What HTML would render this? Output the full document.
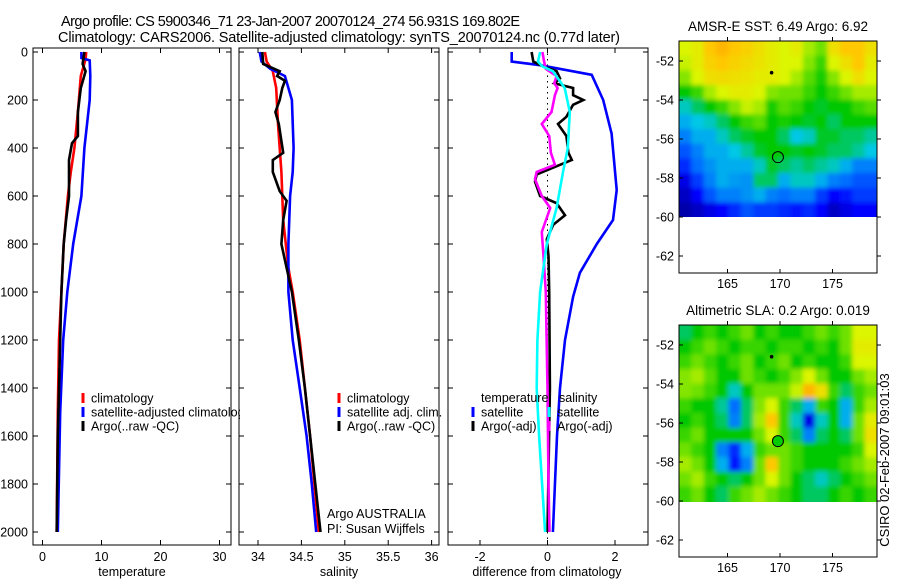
<!DOCTYPE html>
<html><head><meta charset="utf-8">
<style>
body{margin:0;background:#fff;}
svg{display:block;font-family:"Liberation Sans",sans-serif;}
text{font-size:12.5px;fill:#000;}
</style></head>
<body>
<svg id="c" width="900" height="580" viewBox="0 0 900 580" xmlns="http://www.w3.org/2000/svg">
<defs>
<clipPath id="cp1"><rect x="33" y="48" width="198" height="497"/></clipPath>
<clipPath id="cp1l"><rect x="33" y="48" width="207" height="497"/></clipPath>
<clipPath id="cp2"><rect x="239" y="48" width="200" height="497"/></clipPath>
<clipPath id="cp3"><rect x="448" y="48" width="200" height="497"/></clipPath>
<clipPath id="cm1"><rect x="679" y="41" width="198" height="176"/></clipPath>
<clipPath id="cm2"><rect x="679" y="325" width="198" height="177"/></clipPath>
<filter id="bl" x="-5%" y="-5%" width="110%" height="110%"><feGaussianBlur stdDeviation="2.5"/></filter>
</defs>
<text x="61" y="26" style="font-size:14.5px" textLength="459">Argo profile: CS 5900346_71 23-Jan-2007 20070124_274 56.931S 169.802E</text>
<text x="58" y="42" style="font-size:14.5px" textLength="562">Climatology: CARS2006. Satellite-adjusted climatology: synTS_20070124.nc (0.77d later)</text>
<g id="g"></g>
<text transform="translate(889,460) rotate(-90)" text-anchor="middle" style="font-size:13px">CSIRO 02-Feb-2007 09:01:03</text>
</svg>
<script>
// ---- depth axis ----
const depthTicks = [0,200,400,600,800,1000,1200,1400,1600,1800,2000];
// ---- temperature panel ----
const tempTicks = [0,10,20,30];
const tClimDep = [0,30,100,250,400,500,600,800,1000,1200,1500,2000];
const tClim    = [7.4,7.3,6.5,6.0,5.4,4.8,4.3,3.6,3.2,2.8,2.6,2.4];
const tSatDep  = [0,25,35,100,200,400,600,800,1000,1200,1500,2000];
const tSat     = [6.6,6.6,8.0,8.1,8.0,7.1,6.6,5.2,4.2,3.5,3.0,2.6];
const tArgoDep = [0,50,80,150,250,350,380,450,600,700,800,1000,1200,1600,2000];
const tArgo    = [7.1,6.8,7.3,6.5,6.0,6.0,5.0,4.5,4.5,4.0,3.6,3.2,3.0,2.6,2.4];
// ---- salinity panel ----
const salTicks = [34,34.5,35,35.5,36];
const sClimDep = [0,40,80,150,300,500,700,900,1000,1200,1400,1600,1800,2000];
const sClim    = [34.08,34.10,34.17,34.21,34.23,34.27,34.29,34.35,34.40,34.48,34.54,34.60,34.65,34.70];
const sSatDep  = [0,40,70,100,200,400,500,600,800,1000,1200,1400,1600,1800,2000];
const sSat     = [34.02,34.04,34.14,34.31,34.39,34.41,34.40,34.37,34.35,34.35,34.40,34.48,34.56,34.62,34.67];
const sArgoDep = [0,50,80,100,120,150,200,250,300,420,450,500,580,620,700,800,1000,1200,1400,1600,1800,2000];
const sArgo    = [34.05,34.06,34.25,34.22,34.31,34.28,34.25,34.20,34.24,34.29,34.17,34.17,34.25,34.33,34.29,34.27,34.39,34.47,34.54,34.60,34.66,34.72];
// ---- difference panel ----
const diffTicks = [-2,0,2];
const dSatTDep = [0,40,55,95,200,340,575,700,800,920,1020,1200,1400,1600,2000];
const dSatT    = [-1.06,-1.06,-0.22,1.31,1.65,1.90,2.05,1.94,1.46,0.96,0.76,0.52,0.37,0.28,0.16];
const dSatSDep = [0,40,60,80,150,250,400,500,650,800,1000,1200,1400,1600,2000];
const dSatS    = [-0.22,-0.28,-0.15,0.16,0.51,0.66,0.60,0.46,0.27,-0.02,-0.22,-0.30,-0.32,-0.25,-0.07];
const dArgoTDep = [0,40,60,80,110,130,150,180,200,220,270,300,350,420,450,480,510,540,600,630,680,720,780,850,1000,1400,2000];
const dArgoT    = [-0.47,-0.42,-0.13,0.27,0.37,0.20,0.76,0.76,1.06,0.76,0.56,0.31,0.56,0.62,0.72,0.20,-0.32,-0.37,-0.22,0.27,0.52,0.17,-0.02,0.03,0.05,0.07,0.0];
const dArgoSDep = [0,40,70,100,130,150,180,250,300,350,420,470,500,530,600,650,750,850,1000,1400,1800,2000];
const dArgoS    = [-0.15,-0.10,-0.05,0.27,0.20,0.30,0.22,0.12,-0.17,0.05,0.10,0.22,-0.32,-0.37,-0.17,0.08,-0.17,-0.12,-0.05,0.0,0.03,0.06];
// ---- maps ----
const mapLatTicks = [-52,-54,-56,-58,-60,-62];
const mapLonTicks = [165,170,175];
const argoLon = 169.802, argoLat = -56.931;
const sstGrid = [
[.70,.72,.80,.82,.80,.78,.75,.72,.70,.72,.65,.60,.75,.80,.80,.75],
[.68,.72,.78,.80,.78,.76,.74,.72,.70,.70,.62,.55,.70,.75,.80,.72],
[.62,.70,.75,.76,.75,.74,.72,.72,.70,.65,.58,.52,.62,.70,.75,.70],
[.50,.55,.65,.70,.72,.72,.70,.62,.60,.60,.55,.50,.55,.60,.65,.65],
[.40,.45,.50,.55,.62,.68,.65,.52,.58,.55,.50,.48,.50,.50,.55,.58],
[.35,.38,.40,.45,.50,.55,.58,.50,.52,.50,.48,.50,.45,.50,.50,.50],
[.30,.35,.35,.40,.45,.48,.50,.50,.45,.38,.40,.48,.48,.45,.45,.42],
[.25,.30,.35,.35,.38,.42,.48,.50,.50,.48,.50,.48,.45,.45,.42,.38],
[.20,.28,.32,.35,.35,.35,.40,.48,.45,.42,.45,.42,.40,.35,.30,.30],
[.12,.22,.30,.35,.33,.32,.45,.45,.35,.40,.40,.35,.30,.28,.25,.25],
[.08,.15,.25,.30,.30,.32,.35,.30,.28,.30,.30,.22,.15,.18,.22,.22],
[.05,.08,.12,.15,.20,.25,.22,.22,.20,.18,.20,.15,.08,.12,.15,.15]];
const slaGrid = [
[.45,.50,.55,.50,.55,.60,.50,.55,.50,.50,.55,.60,.55,.60,.70,.70],
[.50,.55,.60,.55,.50,.55,.55,.50,.55,.55,.50,.55,.50,.60,.72,.72],
[.55,.60,.55,.50,.55,.60,.50,.55,.60,.50,.55,.50,.50,.55,.70,.70],
[.62,.65,.58,.50,.50,.60,.55,.50,.55,.62,.70,.60,.50,.50,.60,.65],
[.62,.60,.55,.50,.40,.50,.60,.60,.60,.68,.82,.75,.55,.45,.55,.60],
[.55,.50,.50,.42,.28,.45,.62,.70,.55,.45,.35,.55,.50,.35,.55,.65],
[.50,.55,.50,.45,.30,.45,.65,.80,.55,.40,.12,.40,.50,.35,.60,.72],
[.55,.60,.50,.50,.50,.50,.60,.70,.55,.45,.30,.45,.50,.45,.60,.75],
[.60,.55,.50,.30,.20,.35,.55,.60,.60,.55,.50,.50,.50,.50,.55,.70],
[.65,.60,.50,.35,.18,.30,.60,.80,.60,.55,.50,.50,.50,.55,.60,.65],
[.60,.65,.55,.50,.45,.50,.60,.70,.60,.50,.45,.40,.45,.50,.55,.60],
[.55,.60,.50,.45,.55,.60,.65,.60,.55,.50,.45,.45,.50,.55,.50,.55]];

const NS='http://www.w3.org/2000/svg';
const G=document.getElementById('g');
function mk(tag,attrs,parent){const e=document.createElementNS(NS,tag);for(const k in attrs)e.setAttribute(k,attrs[k]);(parent||G).appendChild(e);return e;}
const yD = d => 52 + d*0.24;
const PT=48, PB=545;

function panel(name,x0,x1,ticks,xs,showY){
  const g=mk('g',{});
  
  
  const fr=mk('rect',{x:x0,y:PT,width:x1-x0,height:PB-PT,fill:'none',stroke:'#000','stroke-width':1},g);
  
  
  depthTicks.forEach(d=>{
    const y=yD(d);
    mk('line',{x1:x0,x2:x0+5,y1:y,y2:y,stroke:'#000'},g);
    mk('line',{x1:x1,x2:x1-5,y1:y,y2:y,stroke:'#000'},g);
    if(showY){const t=mk('text',{x:x0-5,y:y+4.5,'text-anchor':'end'},g);t.textContent=d;
      
      }
  });
  ticks.forEach(v=>{
    const x=xs(v);
    mk('line',{x1:x,x2:x,y1:PB,y2:PB-5,stroke:'#000'},g);
    mk('line',{x1:x,x2:x,y1:PT,y2:PT+5,stroke:'#000'},g);
    const t=mk('text',{x:x,y:561,'text-anchor':'middle'},g);t.textContent=v;
    
    
  });
  return g;
}
function series(name,deps,vals,xs,color,clip,w){
  const pts=deps.map((d,i)=>xs(vals[i]).toFixed(1)+','+yD(d).toFixed(1)).join(' ');
  const p=mk('polyline',{points:pts,fill:'none',stroke:color,'stroke-width':w||2.6,'stroke-linejoin':'miter','clip-path':'url(#'+clip+')'});
  
  
}
function label(txt,x,y,name,anchor){
  const t=mk('text',{x:x,y:y,'text-anchor':anchor||'start'});t.textContent=txt;
  
  
  return t;
}
function legend(x,y,color,txt,name,clip){
  const g=mk('g',clip?{'clip-path':'url(#'+clip+')'}:{});
  
  
  mk('line',{x1:x,x2:x,y1:y-5,y2:y+5,stroke:color,'stroke-width':3},g);
  const t=mk('text',{x:x+8,y:y+4.5},g);t.textContent=txt;
}

// temperature
const xT=v=>42.5+5.9*v;
panel('temperature',33,231,tempTicks,xT,true);
series('temperature-climatology',tClimDep,tClim,xT,'#f00','cp1');
series('temperature-satellite',tSatDep,tSat,xT,'#00f','cp1');
series('temperature-argo',tArgoDep,tArgo,xT,'#000','cp1');
label('temperature',132,576,'temperature-axis-title','middle');
legend(83,398,'#f00','climatology','legend-climatology','cp1l');
legend(83,412,'#00f','satellite-adjusted climatology','legend-satellite-adjusted','cp1l');
legend(83,426,'#000','Argo(..raw -QC)','legend-argo-raw','cp1l');

// salinity
const xS=v=>258+86.8*(v-34);
panel('salinity',239,439,salTicks,xS,false);
series('salinity-climatology',sClimDep,sClim,xS,'#f00','cp2');
series('salinity-satellite',sSatDep,sSat,xS,'#00f','cp2');
series('salinity-argo',sArgoDep,sArgo,xS,'#000','cp2');
label('salinity',339,576,'salinity-axis-title','middle');
legend(339,398,'#f00','climatology','legend-sal-climatology');
legend(339,412,'#00f','satellite adj. clim.','legend-sal-satellite');
legend(339,426,'#000','Argo(..raw -QC)','legend-sal-argo');
label('Argo AUSTRALIA',327,518,'argo-australia-label');
label('PI: Susan Wijffels',327,533,'pi-label');

// difference
const xDf=v=>547.5+33.75*v;
panel('difference',448,648,diffTicks,xDf,false);
mk('line',{x1:xDf(0),x2:xDf(0),y1:PT,y2:PB,stroke:'#000','stroke-dasharray':'1.5,4','stroke-width':1});
series('diff-satellite-temperature',dSatTDep,dSatT,xDf,'#00f','cp3');
series('diff-argo-temperature',dArgoTDep,dArgoT,xDf,'#000','cp3');
series('diff-argo-salinity',dArgoSDep,dArgoS,xDf,'#f0f','cp3');
series('diff-satellite-salinity',dSatSDep,dSatS,xDf,'#0ff','cp3');
label('difference from climatology',547,576,'difference-axis-title','middle');
label('temperature',481,402,'legend-temperature-header');
label('salinity',559,402,'legend-salinity-header');
legend(473,412,'#00f','satellite','legend-diff-sat-temp');
legend(473,426,'#000','Argo(-adj)','legend-diff-argo-temp');
legend(549,412,'#0ff','satellite','legend-diff-sat-sal');
legend(549,426,'#f0f','Argo(-adj)','legend-diff-argo-sal');

// maps
const cmapStops=[[0,[0,0,128]],[0.15,[0,0,255]],[0.28,[0,110,255]],[0.38,[0,200,230]],[0.5,[0,200,0]],[0.6,[110,225,0]],[0.7,[220,245,0]],[0.8,[255,200,0]],[0.9,[255,110,0]],[1,[200,0,0]]];
function cmap(v){
  v=Math.max(0,Math.min(1,v));
  for(let i=1;i<cmapStops.length;i++){
    const [a,ca]=cmapStops[i-1],[b,cb]=cmapStops[i];
    if(v<=b){const f=(v-a)/(b-a);return 'rgb('+ca.map((c,k)=>Math.round(c+(cb[k]-c)*f)).join(',')+')';}
  }
  return 'rgb(200,0,0)';
}
function map(name,title,top,grid,clip){
  const L=679,R=877,B=top+232;
  const lonX=lon=>780+10.5*(lon-170);
  const latY=lat=>top+20+19.5*(-52-lat);
  const dataBottom=latY(-60);
  const g=mk('g',{});
  
  
  const t=mk('text',{x:778,y:top-10,'text-anchor':'middle',style:'font-size:13.5px'},g);t.textContent=title;
  
  
  const rows=grid.length, cols=grid[0].length;
  const cw=(R-L)/cols, ch=(dataBottom-top)/rows;
  const hg=mk('g',{'clip-path':'url(#'+clip+')'},g);
  const hb=mk('g',{filter:'url(#bl)'},hg);
  for(let r=-1;r<=rows;r++)for(let c=-1;c<=cols;c++){
    const rr=Math.max(0,Math.min(rows-1,r)), cc=Math.max(0,Math.min(cols-1,c));
    const cell=mk('rect',{x:L+c*cw,y:top+r*ch,width:cw+0.5,height:ch+0.5,fill:cmap(grid[rr][cc])},hb);
    
    
  }
  mk('rect',{x:L,y:top,width:R-L,height:B-top,fill:'none',stroke:'#000'},g);
  mapLatTicks.forEach(lat=>{
    const y=latY(lat);
    mk('line',{x1:L,x2:L+4,y1:y,y2:y,stroke:'#000'},g);
    mk('line',{x1:R,x2:R+4,y1:y,y2:y,stroke:'#000'},g);
    const tt=mk('text',{x:L-5,y:y+4.5,'text-anchor':'end'},g);tt.textContent=lat;
    
    
  });
  mapLonTicks.forEach(lon=>{
    const x=lonX(lon);
    mk('line',{x1:x,x2:x,y1:B,y2:B-4,stroke:'#000'},g);
    mk('line',{x1:x,x2:x,y1:top,y2:top-4,stroke:'#000'},g);
    const tt=mk('text',{x:x,y:B+15,'text-anchor':'middle'},g);tt.textContent=lon;
    
    
  });
  const dot=mk('circle',{cx:lonX(169.2),cy:latY(-52.6),r:1.8,fill:'#000'},g);
  
  
  const ci=mk('circle',{cx:lonX(argoLon),cy:latY(argoLat),r:5.5,fill:name==='sla-map'?'#00cc00':'none',stroke:'#000','stroke-width':1},g);
  
  
}
map('sst-map','AMSR-E SST: 6.49 Argo: 6.92',41,sstGrid,'cm1');
map('sla-map','Altimetric SLA: 0.2 Argo: 0.019',325,slaGrid,'cm2');
</script>
</body></html>
